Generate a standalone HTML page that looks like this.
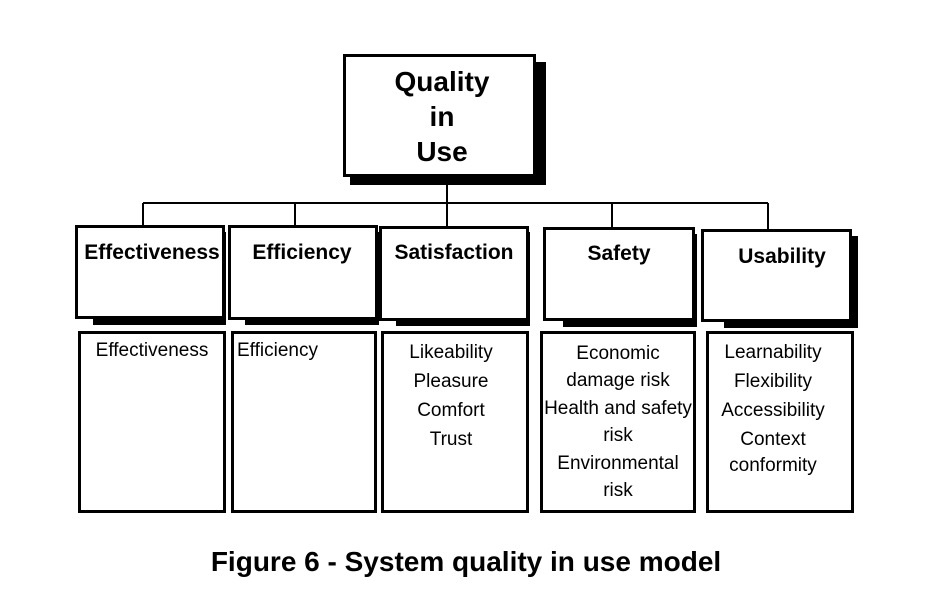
<!DOCTYPE html>
<html><head><meta charset="utf-8"><style>
html,body{margin:0;padding:0;background:#fff;}
svg{display:block;}
text{font-family:"Liberation Sans",Arial,sans-serif;fill:#000;}
.h{font-weight:bold;font-size:21px;}
.d{font-size:19px;}
</style></head><body>
<svg width="952" height="599" viewBox="0 0 952 599" xmlns="http://www.w3.org/2000/svg">
<rect x="350" y="62" width="196" height="123" fill="#000"/>
<rect x="344.5" y="55.5" width="190" height="120" fill="#fff" stroke="#000" stroke-width="3"/>
<text x="442" y="91" text-anchor="middle" style="font-weight:bold;font-size:28px">Quality</text>
<text x="442" y="126" text-anchor="middle" style="font-weight:bold;font-size:28px">in</text>
<text x="442" y="161" text-anchor="middle" style="font-weight:bold;font-size:28px">Use</text>
<g stroke="#000" stroke-width="2" fill="none">
<line x1="143" y1="203" x2="768" y2="203"/>
<line x1="447" y1="185" x2="447" y2="226"/>
<line x1="143" y1="203" x2="143" y2="226"/>
<line x1="295" y1="203" x2="295" y2="226"/>
<line x1="612" y1="203" x2="612" y2="228"/>
<line x1="768" y1="203" x2="768" y2="229"/>
</g>
<g>
<rect x="93" y="232" width="133" height="93" fill="#000"/>
<rect x="76.5" y="226.5" width="147" height="91" fill="#fff" stroke="#000" stroke-width="3"/>
<rect x="245" y="232" width="134" height="93" fill="#000"/>
<rect x="229.5" y="226.5" width="147" height="92" fill="#fff" stroke="#000" stroke-width="3"/>
<rect x="396" y="232" width="134" height="94" fill="#000"/>
<rect x="380.5" y="227.5" width="147" height="92" fill="#fff" stroke="#000" stroke-width="3"/>
<rect x="563" y="234" width="134" height="93" fill="#000"/>
<rect x="544.5" y="228.5" width="149" height="91" fill="#fff" stroke="#000" stroke-width="3"/>
<rect x="724" y="236" width="134" height="92" fill="#000"/>
<rect x="702.5" y="230.5" width="148" height="90" fill="#fff" stroke="#000" stroke-width="3"/>
</g>
<text class="h" x="152" y="259" text-anchor="middle">Effectiveness</text>
<text class="h" x="302" y="259" text-anchor="middle">Efficiency</text>
<text class="h" x="454" y="259" text-anchor="middle">Satisfaction</text>
<text class="h" x="619" y="260" text-anchor="middle">Safety</text>
<text class="h" x="782" y="263" text-anchor="middle">Usability</text>
<g fill="#fff" stroke="#000" stroke-width="3">
<rect x="79.5" y="332.5" width="145" height="179"/>
<rect x="232.5" y="332.5" width="143" height="179"/>
<rect x="382.5" y="332.5" width="145" height="179"/>
<rect x="541.5" y="332.5" width="153" height="179"/>
<rect x="707.5" y="332.5" width="145" height="179"/>
</g>
<text class="d" x="152" y="356" text-anchor="middle">Effectiveness</text>
<text class="d" x="237" y="356">Efficiency</text>
<text class="d" x="451" y="358" text-anchor="middle">Likeability</text>
<text class="d" x="451" y="387" text-anchor="middle">Pleasure</text>
<text class="d" x="451" y="416" text-anchor="middle">Comfort</text>
<text class="d" x="451" y="445" text-anchor="middle">Trust</text>
<text class="d" x="618" y="359" text-anchor="middle">Economic</text>
<text class="d" x="618" y="386" text-anchor="middle">damage risk</text>
<text class="d" x="618" y="414" text-anchor="middle">Health and safety</text>
<text class="d" x="618" y="441" text-anchor="middle">risk</text>
<text class="d" x="618" y="469" text-anchor="middle">Environmental</text>
<text class="d" x="618" y="496" text-anchor="middle">risk</text>
<text class="d" x="773" y="358" text-anchor="middle">Learnability</text>
<text class="d" x="773" y="387" text-anchor="middle">Flexibility</text>
<text class="d" x="773" y="416" text-anchor="middle">Accessibility</text>
<text class="d" x="773" y="445" text-anchor="middle">Context</text>
<text class="d" x="773" y="471" text-anchor="middle">conformity</text>
<text x="466" y="571" text-anchor="middle" style="font-weight:bold;font-size:28px">Figure 6 - System quality in use model</text>
</svg>
</body></html>
